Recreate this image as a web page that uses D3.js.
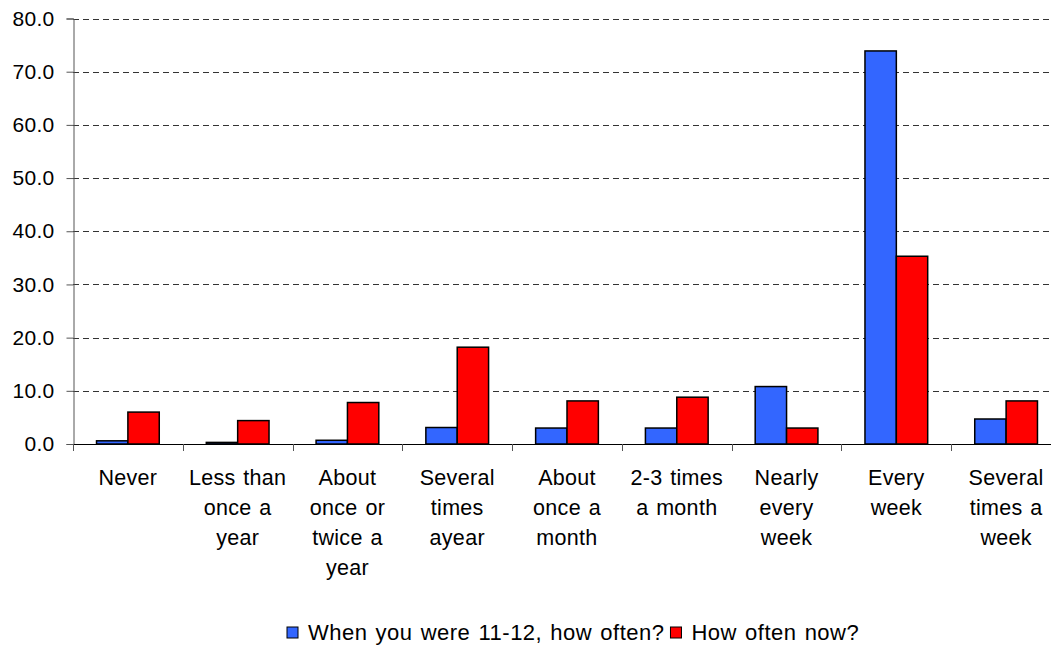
<!DOCTYPE html>
<html>
<head>
<meta charset="utf-8">
<script src="https://cdn.jsdelivr.net/npm/d3@7"></script>
<style>
  html, body { margin: 0; padding: 0; background: #fff; }
  svg { display: block; font-family: "Liberation Sans", Arial, sans-serif; }
</style>
</head>
<body>
<svg id="chart" width="1051" height="646"></svg>
<script>
// Frequency categories (line breaks mark label wrapping)
const categories = [
  "Never",
  "Less than\nonce a\nyear",
  "About\nonce or\ntwice a\nyear",
  "Several\ntimes\nayear",
  "About\nonce a\nmonth",
  "2-3 times\na month",
  "Nearly\nevery\nweek",
  "Every\nweek",
  "Several\ntimes a\nweek"
];
const seriesNames = ["When you were 11-12, how often?", "How often now?"];
const childhood = [0.6, 0.3, 0.7, 3.1, 3.0, 3.0, 10.8, 73.9, 4.7];
const nowValues = [6.0, 4.4, 7.8, 18.2, 8.1, 8.8, 3.0, 35.3, 8.1];
const yTicks = [0, 10, 20, 30, 40, 50, 60, 70, 80];
const colors = ["#3366FF", "#FF0000"];

const svg = d3.select("#chart");
const x0 = 73, x1 = 1061, yTop = 18.5, yBottom = 444;

const x = d3.scaleBand().domain(categories).range([x0, x1]).paddingInner(0).paddingOuter(0);
const y = d3.scaleLinear().domain([0, 80]).range([yBottom, yTop]);

// Gap width 150%: each bar is step / 3.5
const barW = x.bandwidth() / 3.5;
const gapOuter = (x.bandwidth() - 2 * barW) / 2;

// Dashed horizontal gridlines
svg.append("g")
  .selectAll("line")
  .data(yTicks.filter(d => d > 0))
  .join("line")
  .attr("x1", x0).attr("x2", x1)
  .attr("y1", d => Math.round(y(d)) + 0.5).attr("y2", d => Math.round(y(d)) + 0.5)
  .attr("stroke", "#333")
  .attr("stroke-width", 1)
  .attr("stroke-dasharray", "6,4");

// Bars
const data = categories.map((c, i) => ({ c, vals: [childhood[i], nowValues[i]] }));
const groups = svg.append("g")
  .selectAll("g")
  .data(data)
  .join("g")
  .attr("transform", d => `translate(${x(d.c) + gapOuter},0)`);

groups.selectAll("rect")
  .data(d => d.vals.map((v, k) => ({ v, k })))
  .join("rect")
  .attr("x", d => d.k * barW)
  .attr("y", d => y(d.v))
  .attr("width", barW)
  .attr("height", d => yBottom - y(d.v))
  .attr("fill", d => colors[d.k])
  .attr("stroke", "#000")
  .attr("stroke-width", 1.5);

// Y axis
const yAxis = d3.axisLeft(y)
  .tickValues(yTicks)
  .tickFormat(d3.format(".1f"))
  .tickSize(7)
  .tickPadding(12);
const yg = svg.append("g").attr("transform", `translate(${x0 + 0.5},0)`).call(yAxis);
yg.select(".domain").attr("stroke", "#555");
yg.selectAll(".tick line").attr("stroke", "#555");
yg.selectAll(".tick text")
  .attr("font-size", 21)
  .attr("letter-spacing", 0.3)
  .attr("fill", "#000")
  .attr("font-family", "Liberation Sans, Arial, sans-serif");

// X axis: ticks sit on category boundaries
const boundaries = d3.range(categories.length + 1).map(i => x0 + i * x.step());
svg.append("line")
  .attr("x1", x0).attr("x2", x1)
  .attr("y1", yBottom + 0.5).attr("y2", yBottom + 0.5)
  .attr("stroke", "#000").attr("stroke-width", 1.2);
svg.append("g")
  .selectAll("line")
  .data(boundaries)
  .join("line")
  .attr("x1", d => Math.round(d) + 0.5).attr("x2", d => Math.round(d) + 0.5)
  .attr("y1", yBottom).attr("y2", yBottom + 7)
  .attr("stroke", "#555");

// Category labels
const lab = svg.append("g")
  .selectAll("text")
  .data(categories)
  .join("text")
  .attr("x", d => x(d) + x.bandwidth() / 2)
  .attr("y", 485)
  .attr("text-anchor", "middle")
  .attr("font-size", 21.5)
  .attr("letter-spacing", 0.3)
  .attr("word-spacing", 1.5)
  .attr("fill", "#000");
lab.selectAll("tspan")
  .data(d => d.split("\n"))
  .join("tspan")
  .attr("x", function () { return d3.select(this.parentNode).attr("x"); })
  .attr("dy", (d, i) => i === 0 ? 0 : 30)
  .text(d => d);

// Legend: swatch + label pairs laid out left to right
const legend = svg.append("g");
let lx = 287;
seriesNames.forEach((name, k) => {
  legend.append("rect")
    .attr("x", lx).attr("y", 627)
    .attr("width", 11).attr("height", 11)
    .attr("fill", colors[k])
    .attr("stroke", "#000").attr("stroke-width", 1);
  const t = legend.append("text")
    .attr("x", lx + 21).attr("y", 640)
    .attr("font-size", 22)
    .attr("letter-spacing", 0.5)
    .attr("word-spacing", 1.5)
    .attr("fill", "#000")
    .text(name);
  lx = lx + 21 + t.node().getComputedTextLength() + 6;
});
</script>
</body>
</html>
